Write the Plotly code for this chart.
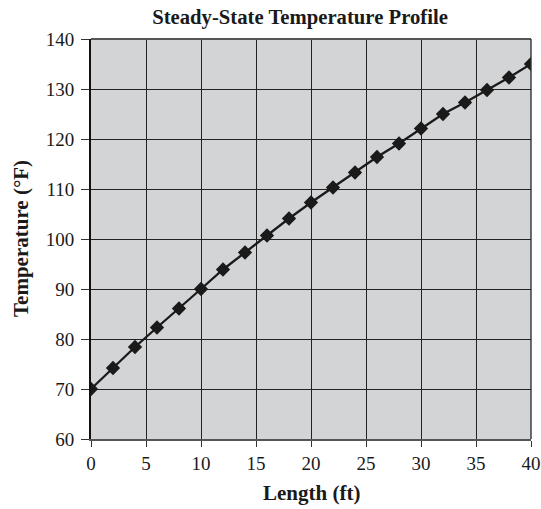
import plotly.graph_objects as go

length_ft = [0, 2, 4, 6, 8, 10, 12, 14, 16, 18, 20, 22, 24, 26, 28, 30, 32, 34, 36, 38, 40]
temperature_f = [70.0, 74.2, 78.4, 82.3, 86.1, 90.0, 93.9, 97.3, 100.7, 104.1, 107.3,
                 110.3, 113.3, 116.4, 119.1, 122.1, 125.0, 127.3, 129.8, 132.3, 135.0]
x_ticks = [0, 5, 10, 15, 20, 25, 30, 35, 40]
y_ticks = [60, 70, 80, 90, 100, 110, 120, 130, 140]

FONT = "Liberation Serif"
INK = "#1a1a1a"

fig = go.Figure()
fig.add_trace(go.Scatter(
    x=length_ft, y=temperature_f, mode="lines+markers",
    line=dict(color=INK, width=2.3),
    marker=dict(symbol="diamond", size=11, color=INK),
    showlegend=False,
))

fig.update_layout(
    width=541, height=509,
    margin=dict(l=91, r=10, t=39, b=70, autoexpand=False),
    paper_bgcolor="white",
    plot_bgcolor="#d3d4d6",
    font=dict(family=FONT, color=INK),
    title=dict(text="<b>Steady-State Temperature Profile</b>",
               font=dict(family=FONT, size=20.7, color=INK),
               xref="container", yref="container",
               x=300/541, xanchor="center", y=1-17/509, yanchor="middle"),
)
fig.update_xaxes(
    range=[0, 40], tickvals=x_ticks, ticktext=[str(v) for v in x_ticks],
    showgrid=True, gridcolor="#222222", gridwidth=1.4,
    showline=True, linecolor="#555555", linewidth=2, mirror=False,
    ticks="outside", ticklen=6, tickcolor="#333333", tickwidth=1.4,
    tickfont=dict(family=FONT, size=19, color=INK),
    zeroline=False, automargin=False,
)
fig.update_yaxes(
    range=[60, 140], tickvals=y_ticks, ticktext=[str(v) for v in y_ticks],
    showgrid=True, gridcolor="#222222", gridwidth=1.4,
    showline=True, linecolor="#111111", linewidth=2, mirror=False,
    ticks="outside", ticklen=8, tickcolor="#333333", tickwidth=1.4,
    tickfont=dict(family=FONT, size=19, color=INK), ticklabelstandoff=3,
    zeroline=False, automargin=False,
)
# axis titles
fig.add_annotation(text="<b>Length (ft)</b>", xref="paper", yref="paper",
                   x=0.5, y=-54/400, xanchor="center", yanchor="middle",
                   showarrow=False, font=dict(family=FONT, size=21, color=INK))
fig.add_annotation(text="<b>Temperature (°F)</b>", xref="paper", yref="paper",
                   x=-(91-21)/440, y=0.5, xanchor="center", yanchor="middle", textangle=-90,
                   showarrow=False, font=dict(family=FONT, size=21, color=INK))
# top and right border lines of plot area
fig.add_shape(type="line", xref="paper", yref="paper", x0=0, x1=1, y0=1, y1=1,
              line=dict(color="#555555", width=2))
fig.add_shape(type="line", xref="paper", yref="paper", x0=1, x1=1, y0=0, y1=1,
              line=dict(color="#333333", width=1.4))

fig.write_html("out.html", config={"displayModeBar": False},
               post_script="document.body.style.margin='0';document.body.style.overflow='hidden';")
